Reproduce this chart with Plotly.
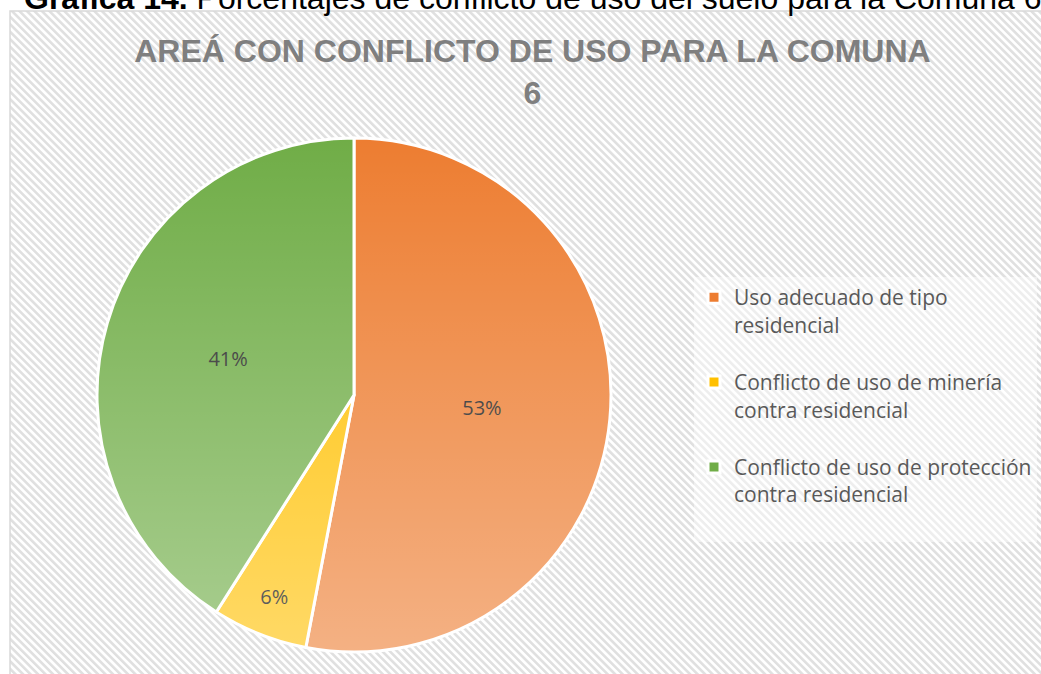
import base64
import plotly.graph_objects as go

# ---- data ----
labels = [
    "Uso adecuado de tipo<br>residencial",
    "Conflicto de uso de minería<br>contra residencial",
    "Conflicto de uso de protección<br>contra residencial",
]
values = [53, 6, 41]

# ---- style ----
slice_colors = ["#ED7D31", "#FFC000", "#70AD47"]
label_colors = ["#1c1c1c", "#000000", "#262626"]
W, H = 1041, 674
pie_cx, pie_cy, pie_r = 354, 395, 257
frame_x, frame_y = 10, 11

def svg_uri(svg):
    return "data:image/svg+xml;base64," + base64.b64encode(svg.encode()).decode()

hatch_w, hatch_h = W - frame_x, H - frame_y
hatch_svg = (
    f"<svg xmlns='http://www.w3.org/2000/svg' width='{hatch_w}' height='{hatch_h}'>"
    "<defs><pattern id='p' patternUnits='userSpaceOnUse' width='5.3' height='5.3' "
    "patternTransform='rotate(-45)'>"
    "<rect width='5.3' height='5.3' fill='#ffffff'/>"
    "<rect width='2.6' height='5.3' fill='#e0e0e0'/></pattern></defs>"
    "<rect width='100%' height='100%' fill='url(#p)'/></svg>"
)

grad_svg = (
    "<svg xmlns='http://www.w3.org/2000/svg' width='100' height='100' viewBox='0 0 100 100'>"
    "<defs><linearGradient id='g' x1='0' y1='0' x2='0' y2='1'>"
    "<stop offset='0' stop-color='#ffffff' stop-opacity='0'/>"
    "<stop offset='1' stop-color='#ffffff' stop-opacity='0.4'/></linearGradient></defs>"
    "<circle cx='50' cy='50' r='50' fill='url(#g)'/></svg>"
)

dx0 = (pie_cx - pie_r) / W
dx1 = (pie_cx + pie_r) / W
dy0 = 1 - (pie_cy + pie_r) / H
dy1 = 1 - (pie_cy - pie_r) / H

legend_text = [lab + "<br> " for lab in labels]

fig = go.Figure(
    go.Pie(
        labels=legend_text,
        values=values,
        sort=False,
        direction="clockwise",
        rotation=0,
        marker=dict(colors=slice_colors, line=dict(color="#ffffff", width=3)),
        textinfo="percent",
        texttemplate="%{percent:.0%}",
        textposition="inside",
        insidetextorientation="horizontal",
        textfont=dict(family="Open Sans", size=20, color=label_colors),
        domain=dict(x=[dx0, dx1], y=[dy0, dy1]),
        hoverinfo="label+percent",
    )
)

fig.update_layout(
    width=W,
    height=H,
    margin=dict(l=0, r=0, t=0, b=0),
    paper_bgcolor="#ffffff",
    plot_bgcolor="#ffffff",
    title=dict(
        text="AREÁ CON CONFLICTO DE USO PARA LA COMUNA<br>6",
        x=0.5115,
        xanchor="center",
        y=1 - 62 / H,
        yanchor="top",
        font=dict(family="Liberation Sans", size=32, color="#7F7F7F", weight="bold"),
    ),
    legend=dict(
        x=694 / W,
        y=1 - 277 / H,
        xanchor="left",
        yanchor="top",
        font=dict(family="Open Sans", size=21, color="#595959"),
        bgcolor="rgba(255,255,255,0.45)",
        valign="top",
        itemwidth=30,
    ),
    images=[
        dict(
            source=svg_uri(hatch_svg),
            xref="paper", yref="paper",
            x=frame_x / W, y=1 - frame_y / H,
            sizex=1 - frame_x / W, sizey=1 - frame_y / H,
            xanchor="left", yanchor="top",
            sizing="stretch", layer="below",
        ),
        dict(
            source=svg_uri(grad_svg),
            xref="paper", yref="paper",
            x=dx0, y=dy1,
            sizex=dx1 - dx0, sizey=dy1 - dy0,
            xanchor="left", yanchor="top",
            sizing="stretch", layer="above",
        ),
    ],
    shapes=[
        dict(
            type="rect", xref="paper", yref="paper",
            x0=frame_x / W, x1=1.02, y0=-0.02, y1=1 - frame_y / H,
            line=dict(color="#d9d9d9", width=1.5),
            fillcolor="rgba(0,0,0,0)", layer="below",
        )
    ],
    annotations=[
        dict(
            text="<b>Gráfica 14.</b> Porcentajes de conflicto de uso del suelo para la Comuna 6",
            xref="paper", yref="paper",
            x=22 / W, y=1 - 18 / H,
            xanchor="left", yanchor="bottom",
            showarrow=False,
            font=dict(family="Liberation Sans", size=32, color="#000000"),
        )
    ],
)

fig.write_html(
    "out.html",
    config={"displayModeBar": False},
    post_script="document.body.style.margin='0';document.documentElement.style.overflow='hidden';document.body.style.overflow='hidden';",
)
